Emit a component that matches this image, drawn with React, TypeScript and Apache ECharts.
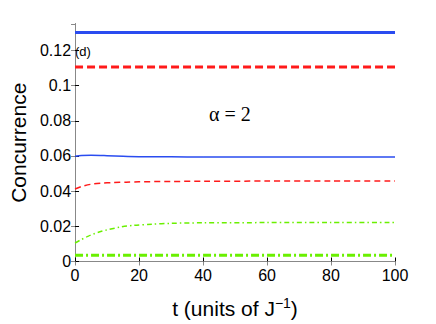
import React, { useEffect, useRef } from "react";
import * as echarts from "echarts";

const xTicks = [0, 20, 40, 60, 80, 100];
const yTickLabels = ["0", "0.02", "0.04", "0.06", "0.08", "0.1", "0.12"];

const blueThickT = [0, 100];
const blueThickV = [0.1302, 0.1302];
const redThickT = [0, 100];
const redThickV = [0.1105, 0.1105];
const greenThickT = [0, 100];
const greenThickV = [0.0035, 0.0035];

const blueThinT = [0, 2, 5, 8, 10, 15, 20, 30, 40, 60, 80, 100];
const blueThinV = [0.0598, 0.0602, 0.0604, 0.0603, 0.0601, 0.0598, 0.0596, 0.0595, 0.0594, 0.0594, 0.0594, 0.0594];
const redThinT = [0, 2, 5, 8, 12, 16, 20, 30, 40, 60, 80, 100];
const redThinV = [0.0412, 0.0426, 0.0439, 0.0445, 0.0449, 0.0451, 0.0453, 0.0455, 0.0456, 0.0457, 0.0457, 0.0457];
const greenThinT = [0, 2, 4, 6, 8, 10, 14, 18, 24, 30, 40, 60, 80, 100];
const greenThinV = [0.0105, 0.0125, 0.0143, 0.0158, 0.017, 0.018, 0.0195, 0.0205, 0.0212, 0.0217, 0.022, 0.0221, 0.0221, 0.0221];

const zip = (t: number[], v: number[]) => t.map((x, i) => [x, v[i]]);

export default function App() {
  const ref = useRef<HTMLDivElement>(null);
  useEffect(() => {
    const chart = echarts.init(ref.current!, null, { renderer: "svg" });
    const blue = "#2a4cf0";
    const red = "#ff1a1a";
    const green = "#6af000";
    const font = "Liberation Sans, Arial, sans-serif";
    const commonX = {
      type: "value" as const,
      min: 0,
      max: 100,
      interval: 20,
      splitLine: { show: false },
    };
    const commonY = {
      type: "value" as const,
      min: 0,
      max: 0.135,
      interval: 0.02,
      splitLine: { show: false },
    };
    chart.setOption({
      animation: false,
      grid: { left: 64, right: 41, top: 24, bottom: 51, containLabel: false },
      xAxis: [
        {
          ...commonX,
          position: "bottom",
          axisLine: { lineStyle: { color: "#000", width: 1 } },
          axisTick: { inside: true, length: 4, lineStyle: { color: "#000" } },
          axisLabel: {
            color: "#000",
            fontFamily: font,
            fontSize: 16,
            margin: 6,
            formatter: (v: number) => (xTicks.includes(v) ? String(v) : ""),
          },
          name: "t (units of J{sup|−1})",
          nameLocation: "middle",
          nameGap: 34,
          nameTextStyle: {
            color: "#000",
            fontFamily: font,
            fontSize: 21,
            rich: {
              sup: { fontSize: 14, verticalAlign: "top", padding: [0, 0, 12, 0], fontFamily: font, color: "#000" },
            },
          },
        },
        {
          ...commonX,
          position: "top",
          axisLine: { lineStyle: { color: "#888", width: 1 } },
          axisTick: { inside: true, length: 4, lineStyle: { color: "#888" } },
          axisLabel: { show: false },
        },
      ],
      yAxis: [
        {
          ...commonY,
          position: "left",
          axisLine: { lineStyle: { color: "#000", width: 1 } },
          axisTick: { inside: true, length: 4, lineStyle: { color: "#000" } },
          axisLabel: {
            color: "#000",
            fontFamily: font,
            fontSize: 16,
            margin: 4,
            showMaxLabel: false,
            formatter: (v: number) => {
              const i = Math.round(v / 0.02);
              return Math.abs(v - i * 0.02) < 1e-6 && i < yTickLabels.length ? yTickLabels[i] : "";
            },
          },
          name: "Concurrence",
          nameLocation: "middle",
          nameGap: 42,
          nameTextStyle: { color: "#000", fontFamily: font, fontSize: 21 },
        },
        {
          ...commonY,
          position: "right",
          axisLine: { lineStyle: { color: "#888", width: 1 } },
          axisTick: { inside: true, length: 4, lineStyle: { color: "#888" } },
          axisLabel: { show: false },
        },
      ],
      graphic: [
        {
          type: "text",
          left: 75,
          top: 45,
          style: { text: "(d)", fontFamily: font, fontSize: 13, fill: "#000" },
        },
        {
          type: "text",
          left: 209,
          top: 104,
          style: { text: "α = 2", fontFamily: "Liberation Serif, Times New Roman, serif", fontSize: 20, fill: "#000" },
        },
      ],
      series: [
        {
          type: "line",
          data: zip(blueThickT, blueThickV),
          showSymbol: false,
          lineStyle: { color: blue, width: 3 },
        },
        {
          type: "line",
          data: zip(redThickT, redThickV),
          showSymbol: false,
          lineStyle: { color: red, width: 3, type: [8, 4] },
        },
        {
          type: "line",
          data: zip(greenThickT, greenThickV),
          showSymbol: false,
          lineStyle: { color: green, width: 3, type: [8, 3, 2, 3] },
        },
        {
          type: "line",
          data: zip(blueThinT, blueThinV),
          showSymbol: false,
          smooth: 0.3,
          lineStyle: { color: blue, width: 1.5 },
        },
        {
          type: "line",
          data: zip(redThinT, redThinV),
          showSymbol: false,
          smooth: 0.3,
          lineStyle: { color: red, width: 1.5, type: [6, 4] },
        },
        {
          type: "line",
          data: zip(greenThinT, greenThinV),
          showSymbol: false,
          smooth: 0.3,
          lineStyle: { color: green, width: 1.5, type: [5, 3, 1.5, 3] },
        },
      ],
    });
    return () => chart.dispose();
  }, []);
  return <div ref={ref} style={{ position: "absolute", left: 0, top: 0, width: 436, height: 324 }} />;
}
